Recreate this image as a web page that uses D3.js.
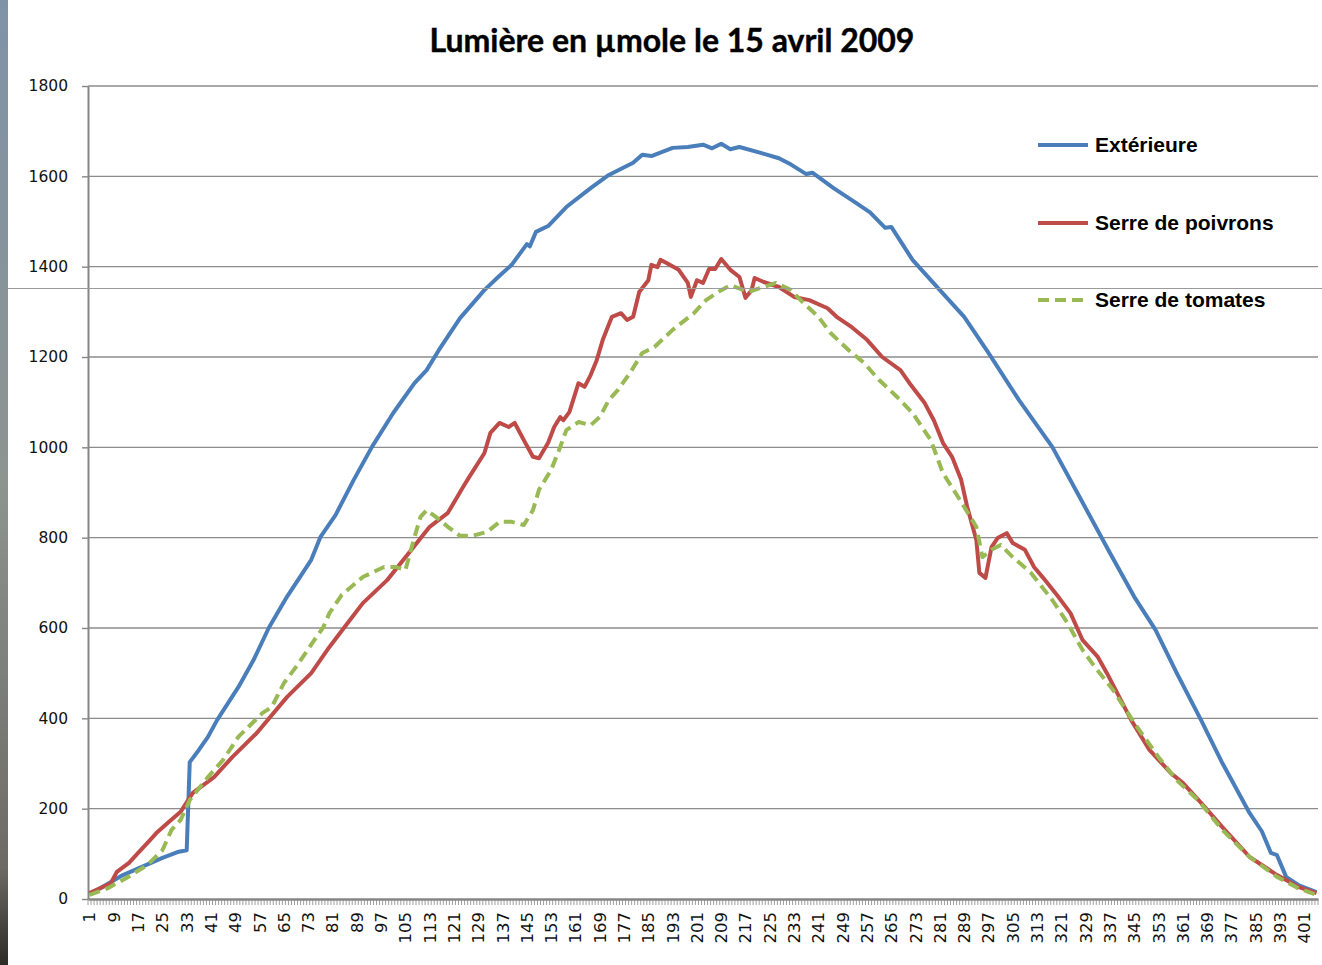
<!DOCTYPE html>
<html>
<head>
<meta charset="utf-8">
<script src="https://cdn.jsdelivr.net/npm/d3@7"></script>
<style>
  body { margin: 0; background: #fff; }
  svg { display: block; }
  .grid line { stroke: #8c8c8c; stroke-width: 1.4; }
  .axis path, .axis line { stroke: #868686; }
</style>
</head>
<body>
<div id="chart"></div>
<script>
// categories on the x axis (measurement number)
var categories = d3.range(1, 406);
var yTicks = [0, 200, 400, 600, 800, 1000, 1200, 1400, 1600, 1800];

// Extérieure : [category, value]
var exterieure = [
  [1, 10], [12, 53], [25, 91], [30, 104], [33, 108], [34, 303], [37, 330], [40, 359], [43, 396],
  [50, 469], [55, 529], [60, 600], [66, 669], [74, 751], [77, 801], [82, 850], [88, 928],
  [94, 1001], [101, 1076], [108, 1142], [112, 1171], [116, 1215], [123, 1286], [131, 1348],
  [136, 1380], [140, 1404], [145, 1450], [146, 1445], [148, 1477], [152, 1490], [158, 1532],
  [166, 1574], [172, 1603], [180, 1630], [183, 1648], [186, 1645], [193, 1663], [198, 1665],
  [203, 1670], [206, 1662], [209, 1672], [212, 1660], [215, 1665], [222, 1652], [228, 1640],
  [232, 1626], [237, 1605], [239, 1608], [246, 1574], [253, 1543], [258, 1520], [263, 1486],
  [265, 1488], [272, 1415], [281, 1348], [289, 1289], [297, 1209], [307, 1105], [318, 1001],
  [327, 890], [337, 766], [345, 669], [352, 596], [359, 500], [367, 396], [374, 301],
  [383, 190], [387, 150], [390, 102], [392, 97], [395, 49], [399, 31], [405, 15]
];

// Serre de poivrons
var poivrons = [
  [1, 13], [8, 35], [10, 60], [14, 80], [17, 102], [21, 131], [23, 146], [27, 170], [31, 193],
  [35, 235], [42, 270], [48, 314], [56, 367], [66, 447], [74, 500], [80, 558], [86, 611],
  [91, 655], [99, 706], [107, 773], [113, 824], [119, 855], [124, 912], [126, 934], [131, 987],
  [133, 1032], [136, 1054], [139, 1045], [141, 1054], [144, 1016], [147, 979], [149, 976],
  [152, 1010], [154, 1045], [156, 1067], [157, 1060], [159, 1078], [162, 1142], [164, 1134],
  [166, 1160], [168, 1193], [170, 1238], [173, 1289], [176, 1297], [178, 1282], [180, 1289],
  [182, 1344], [185, 1370], [186, 1404], [188, 1399], [189, 1415], [191, 1408], [195, 1393],
  [198, 1364], [199, 1333], [201, 1370], [203, 1364], [205, 1395], [207, 1395], [209, 1417],
  [212, 1393], [215, 1377], [217, 1331], [219, 1348], [220, 1375], [223, 1366], [228, 1355],
  [233, 1333], [238, 1326], [244, 1308], [247, 1289], [252, 1266], [257, 1238], [262, 1200],
  [268, 1171], [271, 1142], [276, 1098], [279, 1060], [282, 1010], [285, 979], [288, 928],
  [290, 868], [293, 795], [294, 722], [296, 711], [298, 779], [300, 799], [303, 810],
  [305, 788], [309, 773], [312, 735], [315, 711], [320, 669], [324, 633], [328, 573],
  [333, 536], [336, 500], [344, 396], [350, 330], [357, 279], [361, 257], [367, 213],
  [374, 159], [383, 93], [392, 53], [399, 27], [405, 13]
];

// Serre de tomates
var tomates = [
  [1, 9], [7, 24], [13, 46], [20, 75], [25, 108], [28, 153], [31, 175], [34, 219], [40, 270],
  [45, 308], [50, 359], [58, 412], [61, 425], [65, 478], [69, 514], [75, 573], [78, 602],
  [80, 633], [84, 673], [91, 713], [98, 735], [102, 735], [105, 728], [108, 801], [110, 846],
  [112, 861], [115, 846], [119, 824], [123, 804], [127, 804], [132, 813], [136, 835],
  [140, 835], [144, 828], [147, 861], [149, 906], [153, 950], [156, 1001], [158, 1038],
  [162, 1056], [166, 1049], [169, 1067], [172, 1105], [175, 1127], [179, 1165], [183, 1209],
  [187, 1222], [193, 1260], [200, 1297], [204, 1326], [209, 1348], [212, 1359], [218, 1344],
  [223, 1355], [227, 1364], [232, 1348], [236, 1320], [241, 1289], [245, 1253], [251, 1215],
  [256, 1187], [261, 1149], [267, 1111], [272, 1076], [278, 1016], [282, 943], [287, 890],
  [290, 857], [293, 824], [295, 757], [298, 773], [301, 784], [305, 757], [311, 722],
  [318, 662], [323, 611], [328, 551], [332, 514], [338, 463], [345, 390], [353, 314],
  [359, 263], [366, 219], [374, 153], [383, 93], [392, 49], [399, 24], [405, 9]
];

var seriesNames = ["Extérieure", "Serre de poivrons", "Serre de tomates"];
var seriesData = [exterieure, poivrons, tomates];
var seriesColors = ["#4a7ebb", "#be4b48", "#98b954"];
var seriesDash = [null, null, "11,6"];

var W = 1322, H = 965;
var plotLeft = 88, plotRight = 1318, plotTop = 86, plotBottom = 899;

var svg = d3.select("#chart").append("svg")
    .attr("width", W)
    .attr("height", H);

svg.append("rect").attr("width", W).attr("height", H).attr("fill", "#fff");

// strip of the desktop behind the screenshot
var strip = svg.append("defs").append("linearGradient")
    .attr("id", "strip").attr("x1", 0).attr("x2", 0).attr("y1", 0).attr("y2", 1);
strip.append("stop").attr("offset", "0").attr("stop-color", "#7f93a8");
strip.append("stop").attr("offset", "0.5").attr("stop-color", "#8d9490");
strip.append("stop").attr("offset", "0.9").attr("stop-color", "#6d6a64");
strip.append("stop").attr("offset", "1").attr("stop-color", "#2e2a26");
svg.append("rect").attr("x", 0).attr("y", 0).attr("width", 8).attr("height", H)
    .attr("fill", "url(#strip)");

var x = d3.scaleBand().domain(categories).range([plotLeft, plotRight]);
var y = d3.scaleLinear().domain([0, 1800]).range([plotBottom, plotTop]);
var cx = function(c) { return x(c) + x.bandwidth() / 2; };

// gridlines
svg.append("g").attr("class", "grid")
  .selectAll("line")
  .data(yTicks.filter(function(d){ return d > 0; }))
  .enter().append("line")
    .attr("x1", plotLeft).attr("x2", plotRight)
    .attr("y1", function(d){ return y(d); })
    .attr("y2", function(d){ return y(d); });

// y axis
var yAxis = svg.append("g").attr("class", "axis")
    .attr("transform", "translate(" + plotLeft + ",0)")
    .call(d3.axisLeft(y).tickValues(yTicks).tickFormat(d3.format("d"))
      .tickSize(6).tickSizeOuter(0).tickPadding(14));
yAxis.select(".domain").attr("stroke-width", 2);
yAxis.selectAll("line").attr("stroke-width", 1.4);
yAxis.selectAll("text")
    .attr("font-family", "DejaVu Sans, Verdana, sans-serif")
    .attr("font-size", 15.5)
    .attr("fill", "#111");

// x axis
var xAxis = svg.append("g").attr("class", "axis")
    .attr("transform", "translate(0," + plotBottom + ")")
    .call(d3.axisBottom(x)
      .tickValues(categories.filter(function(d, i){ return i % 8 === 0; }))
      .tickSize(0).tickSizeOuter(0));
xAxis.select(".domain").attr("stroke-width", 2.5);
xAxis.selectAll("text")
    .attr("transform", "rotate(-90)")
    .attr("text-anchor", "end")
    .attr("x", -13)
    .attr("y", 0)
    .attr("dy", "0.36em")
    .attr("font-family", "DejaVu Sans, Verdana, sans-serif")
    .attr("font-size", 16.5)
    .attr("fill", "#111");

// small tick marks between categories
svg.append("g").attr("class", "axis")
  .selectAll("line")
  .data(categories.concat([null]))
  .enter().append("line")
    .attr("x1", function(d){ return d === null ? plotRight : x(d); })
    .attr("x2", function(d){ return d === null ? plotRight : x(d); })
    .attr("y1", plotBottom).attr("y2", plotBottom + 6)
    .attr("stroke-width", 0.8);

// series lines
var line = d3.line()
    .x(function(d){ return cx(d[0]); })
    .y(function(d){ return y(d[1]); });

svg.append("g").selectAll("path")
  .data(seriesData)
  .enter().append("path")
    .attr("d", line)
    .attr("fill", "none")
    .attr("stroke", function(d, i){ return seriesColors[i]; })
    .attr("stroke-width", 4)
    .attr("stroke-linejoin", "round")
    .attr("stroke-dasharray", function(d, i){ return seriesDash[i]; });

// title
svg.append("text")
    .attr("x", 672).attr("y", 52)
    .attr("text-anchor", "middle")
    .attr("font-family", "Lato, sans-serif")
    .attr("font-weight", 700)
    .attr("font-size", 32)
    .attr("stroke", "#000").attr("stroke-width", 0.4)
    .attr("fill", "#000")
    .text("Lumière en µmole le 15 avril 2009");

// legend
var legend = svg.append("g").selectAll("g")
  .data(seriesNames)
  .enter().append("g")
    .attr("transform", function(d, i){ return "translate(1038," + [145, 223, 300][i] + ")"; });
legend.append("line")
    .attr("x1", 0).attr("x2", 50)
    .attr("stroke", function(d, i){ return seriesColors[i]; })
    .attr("stroke-width", 4)
    .attr("stroke-dasharray", function(d, i){ return seriesDash[i]; });
legend.append("text")
    .attr("x", 57).attr("y", 7)
    .attr("font-family", "Liberation Sans, Arial, sans-serif")
    .attr("font-weight", 700)
    .attr("font-size", 21)
    .attr("fill", "#000")
    .text(function(d){ return d; });

// thin line left over from the screenshot
svg.append("line")
    .attr("x1", 8).attr("x2", W)
    .attr("y1", 288.5).attr("y2", 288.5)
    .attr("stroke", "#9a9a9a").attr("stroke-width", 1);
</script>
</body>
</html>
